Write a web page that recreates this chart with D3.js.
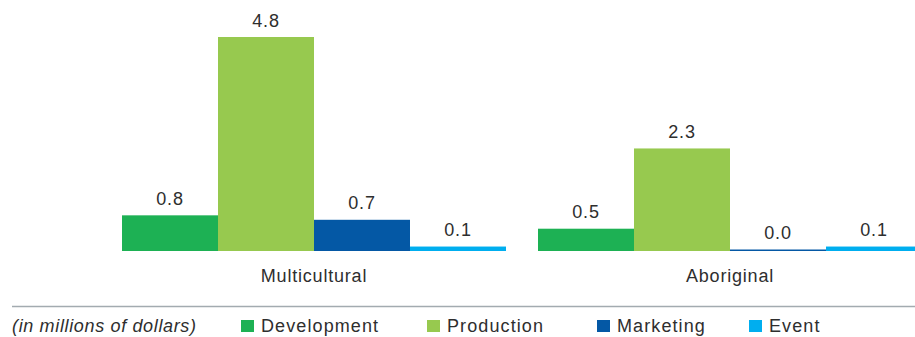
<!DOCTYPE html>
<html>
<head>
<meta charset="utf-8">
<script src="https://cdn.jsdelivr.net/npm/d3@7"></script>
<style>
  body { margin: 0; background: #fff; }
  svg { display: block; font-family: "Liberation Sans", Arial, sans-serif; letter-spacing: 0.8px; }
</style>
</head>
<body>
<div id="chartArea"></div>
<script>
    // Data
    const groups = ["Multicultural", "Aboriginal"];
    const series = ["Development", "Production", "Marketing", "Event"];
    const multicultural = [0.8, 4.8, 0.7, 0.1];
    const aboriginal = [0.5, 2.3, 0.0, 0.1];
    const colors = ["#1db154", "#97c94f", "#0458a5", "#00aeef"];
    const unitNote = "(in millions of dollars)";

    const rows = [multicultural, aboriginal];

    // Dimensions
    const width = 915,
        height = 337,
        baseline = 251,
        plotTop = 37;

    // Scales
    const x0 = d3.scaleBand()
        .domain(groups)
        .range([122, 922])
        .paddingInner(32 / 416)
        .paddingOuter(0);

    const x1 = d3.scaleBand()
        .domain(series)
        .range([0, x0.bandwidth()]);

    const y = d3.scaleLinear()
        .domain([0, 4.8])
        .range([baseline, plotTop]);

    const z = d3.scaleOrdinal()
        .domain(series)
        .range(colors);

    const svg = d3.select("#chartArea")
        .append("svg")
        .attr("width", width)
        .attr("height", height);

    // Bars
    const group = svg.append("g")
        .selectAll("g")
        .data(groups)
        .join("g")
        .attr("transform", d => `translate(${x0(d)},0)`);

    const cells = (g, i) => series.map((s, j) => ({ group: g, key: s, value: rows[i][j] }));

    group.selectAll("rect")
        .data((d, i) => cells(d, i))
        .join("rect")
        .attr("x", d => x1(d.key))
        .attr("width", x1.bandwidth())
        .attr("y", d => Math.min(y(d.value), baseline - 1.5))
        .attr("height", d => Math.max(baseline - y(d.value), 1.5))
        .attr("fill", d => z(d.key));

    group.selectAll("text.value")
        .data((d, i) => cells(d, i))
        .join("text")
        .attr("class", "value")
        .attr("x", d => x1(d.key) + x1.bandwidth() / 2)
        .attr("y", d => Math.min(y(d.value), baseline - 1.5) - 10.5)
        .attr("text-anchor", "middle")
        .attr("font-size", 18)
        .attr("fill", "#2e2e2e")
        .text(d => d.value.toFixed(1));

    // Category labels
    svg.append("g")
        .selectAll("text")
        .data(groups)
        .join("text")
        .attr("x", d => x0(d) + x0.bandwidth() / 2)
        .attr("y", 282)
        .attr("text-anchor", "middle")
        .attr("font-size", 18)
        .attr("fill", "#2e2e2e")
        .text(d => d);

    // Rule
    svg.append("line")
        .attr("x1", 12)
        .attr("x2", width)
        .attr("y1", 306.5)
        .attr("y2", 306.5)
        .attr("stroke", "#a3abb0")
        .attr("stroke-width", 1.5);

    // Legend
    const legend = svg.append("g").attr("id", "legend");

    legend.append("text")
        .attr("x", 12)
        .attr("y", 332)
        .attr("font-size", 18)
        .attr("font-style", "italic")
        .attr("letter-spacing", 0.65)
        .attr("fill", "#2e2e2e")
        .text(unitNote);

    const legendX = [241, 427, 597, 749];

    const item = legend.selectAll("g")
        .data(series)
        .join("g")
        .attr("transform", (d, i) => `translate(${legendX[i]},0)`);

    item.append("rect")
        .attr("y", 320)
        .attr("width", 13)
        .attr("height", 12)
        .attr("fill", d => z(d));

    item.append("text")
        .attr("x", 20)
        .attr("y", 332)
        .attr("font-size", 18)
        .attr("letter-spacing", 1.1)
        .attr("fill", "#2e2e2e")
        .text(d => d);
</script>
</body>
</html>
